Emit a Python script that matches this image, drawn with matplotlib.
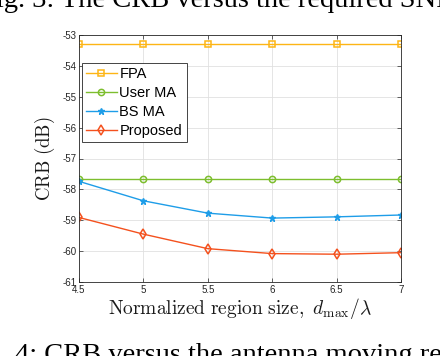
import numpy as np
import matplotlib
matplotlib.use('Agg')
import matplotlib.pyplot as plt

plt.rcParams['mathtext.fontset'] = 'cm'

#data
region_size = [4.5, 5, 5.5, 6, 6.5, 7]
crb_fpa = [-53.3, -53.3, -53.3, -53.3, -53.3, -53.3]
crb_user_ma = [-57.66, -57.66, -57.66, -57.66, -57.66, -57.66]
crb_bs_ma = [-57.74, -58.37, -58.77, -58.93, -58.89, -58.83]
crb_proposed = [-58.91, -59.45, -59.92, -60.08, -60.10, -60.05]

series_names = ['FPA', 'User MA', 'BS MA', 'Proposed']
x_ticks = [4.5, 5, 5.5, 6, 6.5, 7]
x_tick_labels = ['4.5', '5', '5.5', '6', '6.5', '7']
y_ticks = [-61, -60, -59, -58, -57, -56, -55, -54, -53]

fig = plt.figure(figsize=(4.4, 3.56), dpi=100)
ax = fig.add_axes([79/440, 74/356, 322/440, 247/356])

tick_color = '#262626'

#curves
ax.plot(region_size, crb_fpa, color='#FDB515', marker='s', markersize=4,
        markerfacecolor='none', markeredgewidth=1.1, linewidth=1.0, label=series_names[0])
ax.plot(region_size, crb_user_ma, color='#7DBE2E', marker='o', markersize=4.5,
        markerfacecolor='none', markeredgewidth=1.1, linewidth=1.0, label=series_names[1])
ax.plot(region_size, crb_bs_ma, color='#1E9DE8', marker='*', markersize=5,
        linewidth=1.0, label=series_names[2])
ax.plot(region_size, crb_proposed, color='#F4511E', marker='d', markersize=5,
        markerfacecolor='none', markeredgewidth=1.1, linewidth=1.0, label=series_names[3])

#axis boundary
ax.set_xlim(4.5, 7)
ax.set_ylim(-61, -53)
ax.set_xticks(x_ticks)
ax.set_xticklabels(x_tick_labels)
ax.set_yticks(y_ticks)
ax.set_yticklabels([str(v) for v in y_ticks])

ax.grid(True, color='#E0E0E0', linewidth=0.6)
ax.set_axisbelow(True)

ax.tick_params(direction='in', length=3, width=0.5, colors=tick_color,
               labelsize=7, top=True, right=True, pad=2)
for label in ax.get_xticklabels() + ax.get_yticklabels():
    label.set_fontname('Liberation Sans')
for spine in ax.spines.values():
    spine.set_color(tick_color)
    spine.set_linewidth(0.6)

#labels
ax.set_ylabel(r'$\mathrm{CRB\ (dB)}$', fontsize=13.5, color='#1a1a1a', labelpad=4)
ax.set_xlabel(r'$\mathrm{Normalized\ region\ size,}\ d_{\max}/\lambda$',
              fontsize=14, color='#1a1a1a', labelpad=1)

#legend
leg = ax.legend(loc='upper left', bbox_to_anchor=(0.008, 0.887),
                prop={'family': 'Liberation Sans', 'size': 10.5},
                fancybox=False, framealpha=1, edgecolor='#262626',
                handlelength=2.1, handletextpad=0.2, borderpad=0.3,
                labelspacing=0.33, borderaxespad=0)
leg.get_frame().set_linewidth(0.6)

#surrounding page text (cut by the crop, as in the source page)
fig.text(-20/440, 1.0 - 7/356, 'Fig. 3: The CRB versus the required SNR',
         family='Liberation Serif', fontsize=20.5, ha='left', va='baseline')
fig.text(15/440, -6/356, '4: CRB versus the antenna moving region',
         family='Liberation Serif', fontsize=20.5, ha='left', va='baseline')

fig.savefig('out.png', dpi=100)
